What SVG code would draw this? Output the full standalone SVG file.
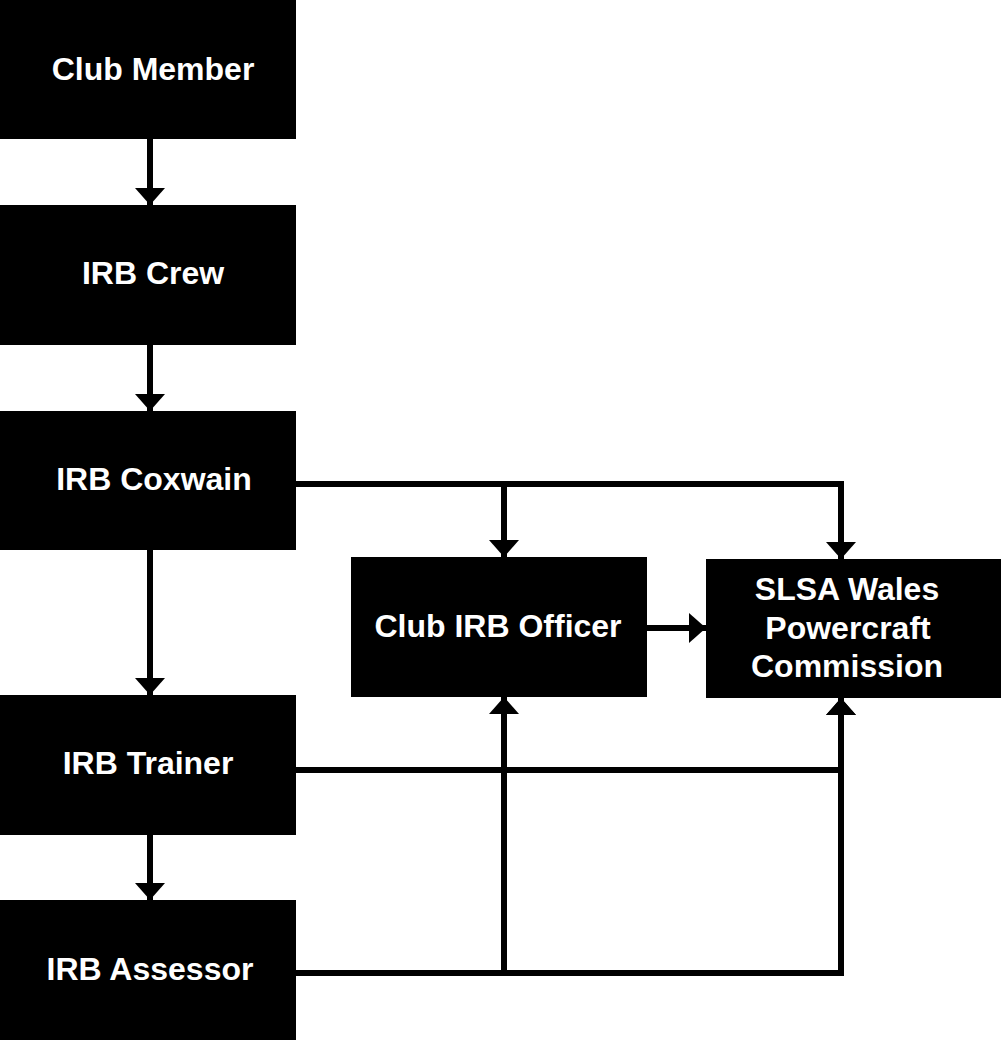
<svg xmlns="http://www.w3.org/2000/svg" width="1001" height="1040" viewBox="0 0 1001 1040">
<style>
.box{fill:#000;}
.lbl{fill:#fff;font-family:"Liberation Sans",Arial,sans-serif;font-weight:bold;font-size:32px;text-anchor:middle;}
.c{fill:none;stroke:#000;stroke-width:6;}
</style>
<defs>
<marker id="ah" viewBox="0 0 17 30" refX="17" refY="15" markerWidth="17" markerHeight="30" markerUnits="userSpaceOnUse" orient="auto">
<path d="M0,0 L17,15 L0,30 Z" fill="#000"/>
</marker>
</defs>
<rect width="1001" height="1040" fill="#fff"/>
<g id="connectors">
<path class="c" d="M150,139 V205" marker-end="url(#ah)"/>
<path class="c" d="M150,345 V411" marker-end="url(#ah)"/>
<path class="c" d="M150,550 V695" marker-end="url(#ah)"/>
<path class="c" d="M150,835 V900" marker-end="url(#ah)"/>
<path class="c" d="M296,484 H841 V559" marker-end="url(#ah)"/>
<path class="c" d="M504,484 V557" marker-end="url(#ah)"/>
<path class="c" d="M647,628 H706" marker-end="url(#ah)"/>
<path class="c" d="M296,770 H841 V698" marker-end="url(#ah)"/>
<path class="c" d="M296,973 H841 V698" marker-end="url(#ah)"/>
<path class="c" d="M504,973 V697" marker-end="url(#ah)"/>
</g>
<g id="club-member"><rect class="box" x="0" y="0" width="296" height="139"/><text class="lbl" x="153" y="80">Club Member</text></g>
<g id="irb-crew"><rect class="box" x="0" y="205" width="296" height="140"/><text class="lbl" x="153" y="284">IRB Crew</text></g>
<g id="irb-coxwain"><rect class="box" x="0" y="411" width="296" height="139"/><text class="lbl" x="154" y="490">IRB Coxwain</text></g>
<g id="irb-trainer"><rect class="box" x="0" y="695" width="296" height="140"/><text class="lbl" x="148" y="774">IRB Trainer</text></g>
<g id="irb-assessor"><rect class="box" x="0" y="900" width="296" height="140"/><text class="lbl" x="150" y="980">IRB Assessor</text></g>
<g id="club-irb-officer"><rect class="box" x="351" y="557" width="296" height="140"/><text class="lbl" x="498" y="637">Club IRB Officer</text></g>
<g id="slsa-wales"><rect class="box" x="706" y="559" width="295" height="139"/><text class="lbl" x="847" y="600">SLSA Wales</text><text class="lbl" x="848" y="639">Powercraft</text><text class="lbl" x="847" y="677">Commission</text></g>
</svg>
